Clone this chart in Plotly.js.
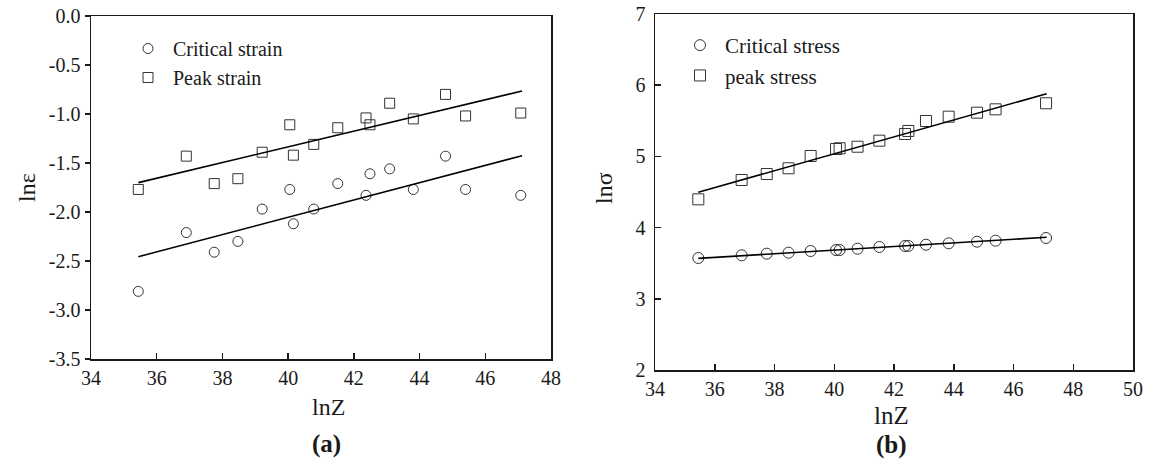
<!DOCTYPE html>
<html>
<head>
<meta charset="utf-8">
<script src="https://cdn.plot.ly/plotly-3.0.1.min.js"></script>
<style>html,body{margin:0;padding:0;background:#fff;}#chart{width:1154px;height:462px;}</style>
</head>
<body>
<div id="chart"></div>
<script>
// ---- Panel (a): strain ----
const lnZa = [35.44, 36.90, 37.75, 38.47, 39.21, 40.05, 40.16, 40.78, 41.51, 42.37, 42.49, 43.09, 43.81, 44.79, 45.40, 47.08];
const criticalStrain = [-2.81, -2.21, -2.41, -2.30, -1.97, -1.77, -2.12, -1.97, -1.71, -1.83, -1.61, -1.56, -1.77, -1.43, -1.77, -1.83];
const peakStrain = [-1.77, -1.43, -1.71, -1.66, -1.39, -1.11, -1.42, -1.31, -1.14, -1.04, -1.11, -0.89, -1.05, -0.80, -1.02, -0.99];
const fitXa = [35.44, 47.12];
const fitCriticalStrain = [-2.456, -1.425];
const fitPeakStrain = [-1.70, -0.765];

// ---- Panel (b): stress ----
const lnZb = [35.45, 36.90, 37.74, 38.47, 39.21, 40.06, 40.18, 40.78, 41.51, 42.37, 42.48, 43.07, 43.83, 44.78, 45.40, 47.09];
const criticalStress = [3.573, 3.611, 3.634, 3.648, 3.671, 3.685, 3.685, 3.704, 3.728, 3.742, 3.742, 3.760, 3.779, 3.802, 3.816, 3.854];
const peakStress = [4.397, 4.669, 4.753, 4.833, 5.006, 5.104, 5.114, 5.136, 5.221, 5.315, 5.357, 5.497, 5.558, 5.614, 5.661, 5.746];
const fitXb = [35.45, 47.11];
const fitCriticalStress = [3.568, 3.864];
const fitPeakStress = [4.496, 5.881];

const xTicksA = [34, 36, 38, 40, 42, 44, 46, 48];
const yTicksA = [0, -0.5, -1.0, -1.5, -2.0, -2.5, -3.0, -3.5];
const xTicksB = [34, 36, 38, 40, 42, 44, 46, 48, 50];
const yTicksB = [2, 3, 4, 5, 6, 7];

const FONT = '"Liberation Serif", "Times New Roman", serif';
const INK = '#1a1a1a';
const MARK = '#333333';

function markers(x, y, name, symbol, size, xa, ya, legend) {
  return {x: x, y: y, name: name, type: 'scatter', mode: 'markers',
    xaxis: xa, yaxis: ya, legend: legend,
    marker: {symbol: symbol, size: size, color: MARK, line: {width: 1, color: MARK}},
    hoverinfo: 'x+y'};
}
function fitLine(x, y, xa, ya) {
  return {x: x, y: y, type: 'scatter', mode: 'lines', xaxis: xa, yaxis: ya,
    line: {color: '#000', width: 1.6}, showlegend: false, hoverinfo: 'skip'};
}

const data = [
  markers(lnZa, criticalStrain, 'Critical strain', 'circle-open', 10, 'x', 'y', 'legend'),
  markers(lnZa, peakStrain, 'Peak strain', 'square-open', 10, 'x', 'y', 'legend'),
  fitLine(fitXa, fitCriticalStrain, 'x', 'y'),
  fitLine(fitXa, fitPeakStrain, 'x', 'y'),
  markers(lnZb, criticalStress, 'Critical stress', 'circle-open', 11, 'x2', 'y2', 'legend2'),
  markers(lnZb, peakStress, 'peak stress', 'square-open', 11, 'x2', 'y2', 'legend2'),
  fitLine(fitXb, fitCriticalStress, 'x2', 'y2'),
  fitLine(fitXb, fitPeakStress, 'x2', 'y2')
];

const W = 1154, H = 462;
const axBase = {showgrid: false, zeroline: false, showline: true, linecolor: INK, linewidth: 1.5,
  mirror: true, tickcolor: INK, tickwidth: 1.5, ticklen: 6,
  tickfont: {family: FONT, size: 20, color: INK}, fixedrange: true};

const layout = {
  width: W, height: H,
  margin: {l: 0, r: 0, t: 0, b: 0},
  paper_bgcolor: '#fff', plot_bgcolor: '#fff',
  font: {family: FONT, color: INK},
  xaxis: Object.assign({}, axBase, {domain: [91 / W, 551 / W], range: [34, 48],
    tickmode: 'array', tickvals: xTicksA, ticktext: xTicksA.map(String), ticks: 'inside', anchor: 'y'}),
  yaxis: Object.assign({}, axBase, {domain: [1 - 359 / H, 1 - 16 / H], range: [-3.5, 0],
    tickmode: 'array', tickvals: yTicksA, ticktext: yTicksA.map(v => v.toFixed(1)),
    ticks: 'outside', ticklen: 5, anchor: 'x'}),
  xaxis2: Object.assign({}, axBase, {domain: [655 / W, 1133 / W], range: [34, 50],
    tickmode: 'array', tickvals: xTicksB, ticktext: xTicksB.map(String), ticks: 'inside', anchor: 'y2'}),
  yaxis2: Object.assign({}, axBase, {domain: [1 - 370 / H, 1 - 14 / H], range: [2, 7],
    tickmode: 'array', tickvals: yTicksB, ticktext: yTicksB.map(String), ticks: 'inside', ticklabelstandoff: 4, anchor: 'x2'}),
  showlegend: true,
  legend: {x: 123 / W, y: 1 - 29 / H, xanchor: 'left', yanchor: 'top', bgcolor: 'rgba(0,0,0,0)',
    font: {family: FONT, size: 20, color: INK}, itemwidth: 40, tracegroupgap: 0},
  legend2: {x: 675 / W, y: 1 - 25 / H, xanchor: 'left', yanchor: 'top', bgcolor: 'rgba(0,0,0,0)',
    font: {family: FONT, size: 21, color: INK}, itemwidth: 40, tracegroupgap: 0},
  annotations: [
    {text: 'lnZ', xref: 'paper', yref: 'paper', x: 328 / W, y: 1 - 407 / H, showarrow: false,
      font: {family: FONT, size: 24, color: INK}, xanchor: 'center', yanchor: 'middle'},
    {text: '<b>(a)</b>', xref: 'paper', yref: 'paper', x: 326 / W, y: 1 - 444 / H, showarrow: false,
      font: {family: FONT, size: 25, color: INK}, xanchor: 'center', yanchor: 'middle'},
    {text: 'ln\u03b5', xref: 'paper', yref: 'paper', x: 27 / W, y: 1 - 188 / H, showarrow: false, textangle: -90,
      font: {family: FONT, size: 24, color: INK}, xanchor: 'center', yanchor: 'middle'},
    {text: 'lnZ', xref: 'paper', yref: 'paper', x: 891 / W, y: 1 - 415 / H, showarrow: false,
      font: {family: FONT, size: 25, color: INK}, xanchor: 'center', yanchor: 'middle'},
    {text: '<b>(b)</b>', xref: 'paper', yref: 'paper', x: 891 / W, y: 1 - 445 / H, showarrow: false,
      font: {family: FONT, size: 25, color: INK}, xanchor: 'center', yanchor: 'middle'},
    {text: 'ln\u03c3', xref: 'paper', yref: 'paper', x: 604 / W, y: 1 - 188 / H, showarrow: false, textangle: -90,
      font: {family: FONT, size: 24, color: INK}, xanchor: 'center', yanchor: 'middle'}
  ]
};

Plotly.newPlot('chart', data, layout, {displayModeBar: false, staticPlot: true});
</script>
</body>
</html>
